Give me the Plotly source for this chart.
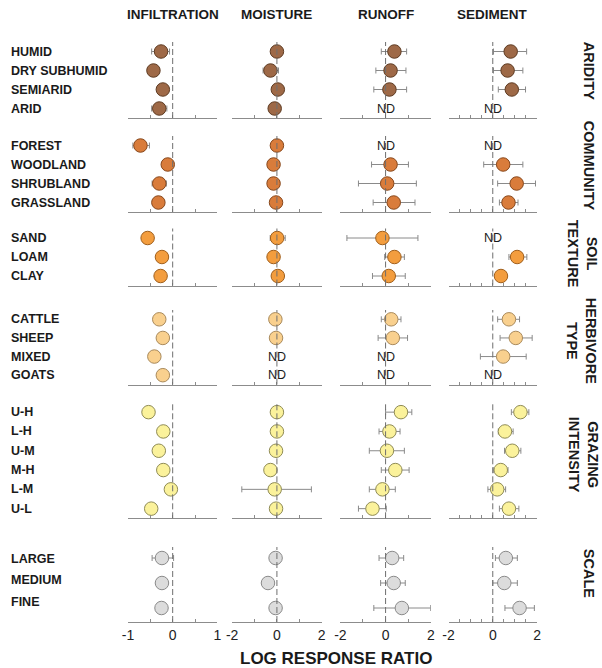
import plotly.graph_objects as go

# ---- categories -------------------------------------------------------
responses = ["INFILTRATION", "MOISTURE", "RUNOFF", "SEDIMENT"]
group_names = ["ARIDITY", "COMMUNITY", "SOIL<br>TEXTURE", "HERBIVORE<br>TYPE",
               "GRAZING<br>INTENSITY", "SCALE"]
group_rows = [
    ["HUMID", "DRY SUBHUMID", "SEMIARID", "ARID"],
    ["FOREST", "WOODLAND", "SHRUBLAND", "GRASSLAND"],
    ["SAND", "LOAM", "CLAY"],
    ["CATTLE", "SHEEP", "MIXED", "GOATS"],
    ["U-H", "L-H", "U-M", "M-H", "L-M", "U-L"],
    ["LARGE", "MEDIUM", "FINE"],
]

# ---- log response ratios (mean, lower CI, upper CI); None = no data ----
infiltration_mean = [-0.26, -0.43, -0.22, -0.30, -0.72, -0.11, -0.30, -0.32,
                     -0.56, -0.24, -0.27, -0.30, -0.22, -0.41, -0.22,
                     -0.54, -0.21, -0.31, -0.21, -0.04, -0.48, -0.24, -0.24, -0.25]
infiltration_lo = [-0.47, -0.52, -0.30, -0.47, -0.89, -0.19, -0.46, -0.40,
                   -0.64, -0.32, -0.35, -0.38, -0.30, -0.49, -0.32,
                   -0.62, -0.29, -0.39, -0.29, -0.12, -0.56, -0.46, -0.34, -0.33]
infiltration_hi = [-0.07, -0.34, -0.14, -0.13, -0.52, -0.03, -0.14, -0.24,
                   -0.48, -0.16, -0.19, -0.22, -0.14, -0.33, -0.12,
                   -0.46, -0.13, -0.23, -0.13, 0.04, -0.40, 0.02, -0.14, -0.17]

moisture_mean = [0.00, -0.29, 0.04, -0.10, 0.00, -0.15, -0.15, -0.04,
                 0.01, -0.15, 0.04, -0.07, -0.04, None, None,
                 0.00, 0.00, -0.04, -0.29, -0.10, -0.04, -0.06, -0.40, -0.06]
moisture_lo = [-0.15, -0.62, -0.10, -0.25, -0.15, -0.30, -0.30, -0.20,
               -0.30, -0.30, -0.10, -0.20, -0.18, None, None,
               -0.14, -0.14, -0.18, -0.44, -1.57, -0.18, -0.20, -0.65, -0.20]
moisture_hi = [0.15, 0.07, 0.18, 0.05, 0.15, 0.00, 0.00, 0.12,
               0.37, 0.00, 0.18, 0.06, 0.10, None, None,
               0.14, 0.14, 0.10, -0.14, 1.54, 0.10, 0.08, -0.20, 0.08]

runoff_mean = [0.39, 0.22, 0.17, None, None, 0.22, 0.07, 0.36,
               -0.14, 0.39, 0.14, 0.25, 0.32, None, None,
               0.68, 0.17, 0.06, 0.43, -0.14, -0.58, 0.29, 0.36, 0.72]
runoff_lo = [-0.19, -0.43, -0.52, None, None, -0.62, -1.20, -0.55,
             -1.71, -0.04, -0.58, -0.19, -0.33, None, None,
             0.00, -0.29, -0.72, -0.19, -0.72, -1.20, -0.29, -0.22, -0.52]
runoff_hi = [0.93, 0.90, 0.93, None, None, 1.01, 1.36, 1.30,
             1.43, 0.83, 0.87, 0.68, 0.97, None, None,
             1.16, 0.64, 0.83, 1.04, 0.43, 0.03, 0.80, 0.87, 1.99]

sediment_mean = [0.81, 0.67, 0.86, None, None, 0.47, 1.08, 0.71,
                 None, 1.10, 0.37, 0.73, 1.04, 0.47, None,
                 1.25, 0.55, 0.88, 0.36, 0.20, 0.73, 0.59, 0.52, 1.21]
sediment_lo = [0.03, 0.03, 0.25, None, None, -0.41, 0.22, 0.30,
               None, 0.73, 0.20, 0.22, 0.33, -0.56, None,
               0.84, 0.25, 0.53, 0.02, -0.22, 0.30, 0.12, 0.00, 0.55]
sediment_hi = [1.53, 1.36, 1.48, None, None, 1.36, 1.93, 1.14,
               None, 1.54, 0.55, 1.21, 1.78, 1.51, None,
               1.63, 0.92, 1.27, 0.69, 0.58, 1.18, 1.11, 1.11, 1.88]

# ---- axis ticks ------------------------------------------------------
infiltration_ticks = [-1, -0.5, 0, 0.5, 1]
infiltration_ticktext = ["-1", "", "0", "", "1"]
wide_ticks = [-2, -1, 0, 1, 2]
wide_ticktext = ["-2", "", "0", "", "2"]
sediment_ticks = [-2, -1.5, -1, -0.5, 0, 0.5, 1, 1.5, 2]
sediment_ticktext = ["-2", "", "", "", "0", "", "", "", "2"]

# ---- styling / layout --------------------------------------------------
W, H = 602, 668
FONT = "Liberation Sans, Arial, Helvetica, sans-serif"
fills = ["#9E6947", "#D97C3B", "#F39D3E", "#F9D08E", "#FBF29B", "#DCDCDC"]
edges = ["#5E3B22", "#87471B", "#A05F1C", "#A98A5C", "#8F8B55", "#8A8A8A"]

col_px = [(124, 215), (230, 321), (340, 432), (450, 540)]
col_range = [(-1, 1), (-2, 2), (-2, 2), (-2, 2)]
col_ticks = [(infiltration_ticks, infiltration_ticktext),
             (wide_ticks, wide_ticktext),
             (wide_ticks, wide_ticktext),
             (sediment_ticks, sediment_ticktext)]
# vertical extent (top, bottom) of each block in pixels, with row padding
grp_px = [(42, 118), (136, 212), (228.5, 285.5), (310, 384.5), (402.5, 518.3), (547, 622)]
grp_pad = [(0.5, 0.5)] * 5 + [(0.44, 0.56)]
grp_label_y = [71, 166, 254, 341, 455, 573]
grp_label_x = [593, 593, 586, 586, 587, 593]
scale_label_shift = [-1, 3, 6]

series = [
    (infiltration_mean, infiltration_lo, infiltration_hi),
    (moisture_mean, moisture_lo, moisture_hi),
    (runoff_mean, runoff_lo, runoff_hi),
    (sediment_mean, sediment_lo, sediment_hi),
]


def px_x(p):
    return p / W


def px_y(p):
    return 1 - p / H


def suffix(k):
    return "" if k == 1 else str(k)


fig = go.Figure()
layout = dict(width=W, height=H, margin=dict(l=0, r=0, t=0, b=0), autosize=False,
              paper_bgcolor="white", plot_bgcolor="white", showlegend=False,
              font=dict(family=FONT, color="#1a1a1a"))
shapes, annotations = [], []

offset = 0
n_groups = len(group_rows)
for g, rows in enumerate(group_rows):
    n = len(rows)
    top, bot = grp_px[g]
    pad_top, pad_bot = grp_pad[g]
    for c in range(4):
        k = g * 4 + c + 1
        s = suffix(k)
        xa, ya = "x" + s, "y" + s
        last = g == n_groups - 1
        tv, tt = col_ticks[c]
        layout["xaxis" + s] = dict(
            domain=[px_x(col_px[c][0]), px_x(col_px[c][1])], anchor=ya,
            range=list(col_range[c]), showline=True, linecolor="#8C8C8C", linewidth=1,
            ticks="inside", ticklen=3, tickcolor="#8C8C8C", tickwidth=1,
            tickvals=tv, ticktext=tt, showticklabels=last,
            tickfont=dict(size=14, color="#222222"),
            showgrid=False, zeroline=False, fixedrange=True)
        layout["yaxis" + s] = dict(
            domain=[px_y(bot), px_y(top)], anchor=xa,
            range=[n - 1 + pad_bot, -pad_top], visible=False, fixedrange=True)

        mean, lo, hi = series[c]
        xs, ys, ep, em = [], [], [], []
        for i in range(n):
            m = mean[offset + i]
            if m is None:
                annotations.append(dict(
                    x=0, y=i, xref=xa, yref=ya, text="ND", showarrow=False,
                    font=dict(size=12.5, color="#1a1a1a"), xanchor="center", yanchor="middle"))
                continue
            xs.append(m)
            ys.append(i)
            ep.append(hi[offset + i] - m)
            em.append(m - lo[offset + i])
        # zero reference line
        shapes.append(dict(type="line", xref=xa, yref=ya + " domain", x0=0, x1=0, y0=0, y1=1,
                           line=dict(color="#6E6E6E", width=1, dash="6px,3px"), layer="above"))
        fig.add_trace(go.Scatter(
            x=xs, y=ys, xaxis=xa, yaxis=ya, mode="markers", hoverinfo="skip",
            error_x=dict(type="data", symmetric=False, array=ep, arrayminus=em,
                         color="#8A8A8A", thickness=1, width=3),
            marker=dict(size=13.5, color=fills[g], line=dict(color=edges[g], width=1)),
        ))

    # row labels
    for i, name in enumerate(rows):
        annotations.append(dict(
            x=px_x(3), xref="paper", y=i, yref="y" + suffix(g * 4 + 1), text=name,
            showarrow=False, xanchor="left", yanchor="middle",
            yshift=scale_label_shift[i] if g == n_groups - 1 else 0,
            font=dict(size=12.5, weight="bold", color="#1a1a1a")))
    # block label on the right
    annotations.append(dict(
        x=px_x(grp_label_x[g]), y=px_y(grp_label_y[g]), xref="paper", yref="paper",
        text=group_names[g], textangle=90, showarrow=False, align="center",
        xanchor="center", yanchor="middle",
        font=dict(size=14.5, weight="bold", color="#1a1a1a")))
    offset += n

# column headings
for c, name in enumerate(responses):
    cx = (col_px[c][0] + col_px[c][1]) / 2
    annotations.append(dict(
        x=px_x(cx), y=px_y(15), xref="paper", yref="paper", text=name, showarrow=False,
        xanchor="center", yanchor="middle",
        font=dict(size=13.5, weight="bold", color="#1a1a1a")))

# shared x-axis title
annotations.append(dict(
    x=px_x(336), y=px_y(658), xref="paper", yref="paper", text="LOG RESPONSE RATIO",
    showarrow=False, xanchor="center", yanchor="middle",
    font=dict(size=17, weight="bold", color="#1a1a1a")))

layout["shapes"] = shapes
layout["annotations"] = annotations
fig.update_layout(**layout)
fig.write_html("out.html")
